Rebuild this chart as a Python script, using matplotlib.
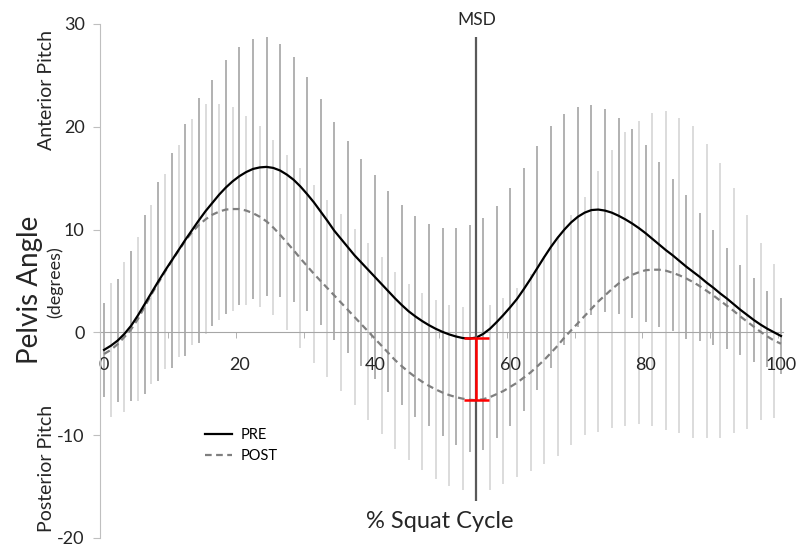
import numpy as np
import matplotlib
matplotlib.use("Agg")
import matplotlib.pyplot as plt
from matplotlib.lines import Line2D

plt.rcParams['font.family'] = ['Lato', 'DejaVu Sans']
plt.rcParams['axes.unicode_minus'] = False

# % squat cycle, 0..100 in steps of 1
cycle = np.arange(0, 101)

# mean pelvis angle (degrees)
pre_mean = [
    -1.7, -1.3, -0.8, -0.15, 0.65, 1.65, 2.75, 3.85, 4.95, 6.0,
    7.0, 8.0, 9.0, 9.95, 10.9, 11.8, 12.6, 13.4, 14.1, 14.7,
    15.2, 15.6, 15.9, 16.05, 16.1, 16.0, 15.75, 15.35, 14.85, 14.2,
    13.45, 12.65, 11.75, 10.85, 9.9, 9.1, 8.3, 7.5, 6.8, 6.1,
    5.4, 4.7, 4.0, 3.3, 2.65, 2.05, 1.55, 1.1, 0.7, 0.35,
    0.05, -0.2, -0.4, -0.55, -0.6, -0.5, -0.15, 0.35, 1.0, 1.7,
    2.45, 3.25, 4.2, 5.2, 6.25, 7.3, 8.3, 9.2, 10.0, 10.7,
    11.25, 11.65, 11.9, 11.95, 11.85, 11.65, 11.35, 11.0, 10.6, 10.15,
    9.65, 9.1, 8.55, 8.0, 7.5, 6.95, 6.4, 5.9, 5.4, 4.85,
    4.35, 3.8, 3.3, 2.75, 2.2, 1.7, 1.2, 0.75, 0.35, 0.0,
    -0.35,
]
post_mean = [
    -2.1, -1.7, -1.15, -0.45, 0.3, 1.3, 2.5, 3.7, 4.8, 5.9,
    6.95, 7.95, 8.9, 9.75, 10.45, 11.0, 11.45, 11.75, 11.95, 12.0,
    12.0, 11.85, 11.6, 11.25, 10.8, 10.2, 9.5, 8.75, 8.0, 7.2,
    6.45, 5.7, 5.0, 4.3, 3.6, 2.9, 2.2, 1.5, 0.8, 0.1,
    -0.6, -1.3, -2.0, -2.7, -3.3, -3.85, -4.35, -4.8, -5.2, -5.55,
    -5.85, -6.1, -6.3, -6.45, -6.55, -6.6, -6.5, -6.3, -6.0, -5.7,
    -5.3, -4.9, -4.4, -3.9, -3.3, -2.7, -2.0, -1.3, -0.5, 0.2,
    0.9, 1.6, 2.3, 3.0, 3.6, 4.2, 4.75, 5.2, 5.6, 5.85,
    6.05, 6.1, 6.1, 6.0, 5.8, 5.55, 5.25, 4.9, 4.5, 4.05,
    3.6, 3.1, 2.6, 2.1, 1.55, 1.05, 0.55, 0.05, -0.4, -0.8,
    -1.1,
]

# standard deviations: PRE at even %, POST at odd %
pre_sd = [
    4.6, 6.0, 7.3, 8.7, 9.7, 10.5, 11.3, 11.9, 12.0, 12.35,
    12.55, 12.65, 12.6, 12.35, 11.9, 11.4, 11.0, 10.6, 10.3, 10.1,
    9.9, 9.8, 9.7, 9.8, 9.85, 10.15, 10.55, 11.0, 11.3, 11.3,
    11.6, 11.8, 11.9, 11.8, 11.2, 10.7, 10.2, 9.85, 9.55, 9.2,
    8.6, 8.0, 7.4, 7.0, 6.25, 5.6, 4.9, 4.4, 4.1, 3.7,
    3.65,
]
post_sd = [
    6.5, 7.3, 8.0, 8.7, 9.5, 10.3, 11.0, 11.2, 10.5, 9.9,
    9.2, 8.8, 8.5, 8.55, 8.75, 8.65, 8.6, 8.6, 8.6, 8.6,
    8.6, 8.6, 8.6, 8.6, 8.7, 8.8, 8.9, 9.0, 9.0, 9.0,
    9.2, 9.6, 10.1, 10.7, 11.2, 11.6, 12.7, 13.5, 14.3, 14.75,
    15.2, 15.5, 15.3, 15.2, 14.3, 13.4, 11.9, 10.4, 8.6, 7.5,
]

msd = 55
x_labels = [0, 20, 40, 60, 80, 100]
y_ticks = [-20, -10, 0, 10, 20, 30]

pre_mean = np.array(pre_mean)
post_mean = np.array(post_mean)
pre_sd = np.array(pre_sd)
post_sd = np.array(post_sd)

W, H = 797, 547
fig = plt.figure(figsize=(W / 100, H / 100), dpi=100)
ax = fig.add_axes([100 / W, 9 / H, 683 / W, 514 / H])
ax.set_xlim(-0.6, 100.3)
ax.set_ylim(-20, 30)

# SD bars
x_even = cycle[::2]
x_odd = cycle[1::2]
ax.vlines(x_odd, post_mean[1::2] - post_sd, post_mean[1::2] + post_sd,
          color='#d9d9d9', lw=1.3, zorder=1)
ax.vlines(x_even, pre_mean[::2] - pre_sd, pre_mean[::2] + pre_sd,
          color='#ababab', lw=1.3, zorder=1)

# mean curves
ax.plot(cycle, post_mean, color='#7f7f7f', lw=1.6, ls=(0, (3, 2)), zorder=3)
ax.plot(cycle, pre_mean, color='black', lw=1.6, zorder=4)

# MSD line and difference marker
ax.vlines(msd, -16.4, 28.7, color='#595959', lw=1.6, zorder=5)
ax.text(msd, 30.4, 'MSD', ha='center', va='center', fontsize=12.5,
        color='#262626', clip_on=False)
a, b = pre_mean[msd], post_mean[msd]
ax.vlines(msd, b, a, color='red', lw=1.8, zorder=6)
ax.hlines([a, b], msd - 1.8, msd + 1.8, color='red', lw=1.8, zorder=6)

# axes styling
for s in ['top', 'right']:
    ax.spines[s].set_visible(False)
ax.spines['left'].set_color('#bfbfbf')
ax.spines['bottom'].set_position(('data', 0))
ax.spines['bottom'].set_color('#a6a6a6')
ax.spines['bottom'].set_zorder(2)

ax.set_yticks(y_ticks)
ax.tick_params(axis='y', direction='out', length=5, color='#bfbfbf',
               labelsize=13, labelcolor='#262626', pad=6)
ax.set_xticks(x_labels)
ax.set_xticks(np.arange(9.5, 100, 10), minor=True)
ax.tick_params(axis='x', which='major', length=0, labelsize=13,
               labelcolor='#262626', pad=18)
ax.tick_params(axis='x', which='minor', direction='out', length=4,
               color='#a6a6a6')

# axis titles
fig.text(30 / W, 1 - 290 / H, 'Pelvis Angle', rotation=90, fontsize=20,
         ha='center', va='center', color='#262626')
fig.text(55 / W, 1 - 282 / H, '(degrees)', rotation=90, fontsize=13,
         ha='center', va='center', color='#262626')
fig.text(46 / W, 1 - 90 / H, 'Anterior Pitch', rotation=90, fontsize=14,
         ha='center', va='center', color='#262626')
fig.text(46 / W, 1 - 468 / H, 'Posterior Pitch', rotation=90, fontsize=14,
         ha='center', va='center', color='#262626')
fig.text(440 / W, 1 - 522 / H, '% Squat Cycle', fontsize=17,
         ha='center', va='center', color='#262626')

handles = [Line2D([], [], color='black', lw=1.6),
           Line2D([], [], color='#7f7f7f', lw=1.6, ls=(0, (3, 2)))]
fig.legend(handles, ['PRE', 'POST'], loc='upper left',
           bbox_to_anchor=(205 / W, 1 - 428 / H), frameon=False,
           fontsize=10.5, handlelength=1.85, handletextpad=0.6,
           labelspacing=0.5, borderpad=0, borderaxespad=0)

fig.savefig('out.png', dpi=100)
